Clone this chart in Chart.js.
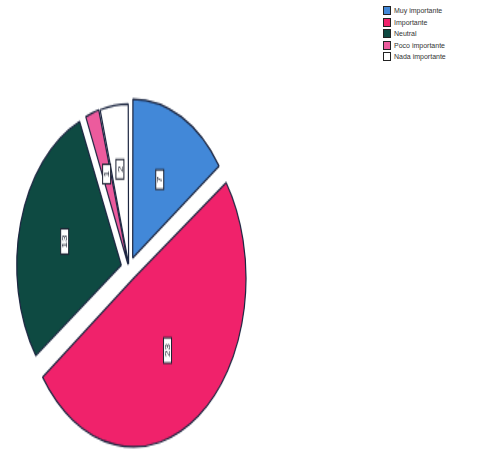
<!DOCTYPE html>
<html>
<head>
<meta charset="utf-8">
<script src="https://cdn.jsdelivr.net/npm/chart.js@4"></script>
<style>
html,body{margin:0;padding:0;background:#fff;width:485px;height:474px;overflow:hidden;font-family:"Liberation Sans",Arial,sans-serif;}
#pieWrap{position:absolute;left:7.5px;top:87px;width:242px;height:242px;transform:scaleY(1.5);transform-origin:0 0;}
#legend{position:absolute;left:383px;top:5px;}
.li{display:flex;align-items:center;height:11.5px;font-size:7px;color:#333;}
.sw{width:8px;height:9px;border:1px solid #222;margin-right:3px;box-sizing:border-box;}
</style>
</head>
<body>
<div id="pieWrap"><canvas id="pie" width="242" height="242"></canvas></div>
<div id="legend"></div>
<script>
const categories = ["Muy importante", "Importante", "Neutral", "Poco importante", "Nada importante"];
const values = [7, 23, 13, 1, 2];
const colors = ["#4288d8", "#f0226b", "#0e4a42", "#ec5b9d", "#ffffff"];

const leg = document.getElementById('legend');
categories.forEach((c, i) => {
  const row = document.createElement('div'); row.className = 'li';
  const sw = document.createElement('div'); sw.className = 'sw'; sw.style.background = colors[i];
  const t = document.createElement('span'); t.textContent = c;
  row.appendChild(sw); row.appendChild(t); leg.appendChild(row);
});

const boxLabels = {
  id: 'boxLabels',
  afterDatasetsDraw(chart) {
    const ctx = chart.ctx;
    const meta = chart.getDatasetMeta(0);
    meta.data.forEach((arc, i) => {
      const p = arc.getProps(['x','y','startAngle','endAngle','outerRadius','innerRadius'], true);
      const mid = (p.startAngle + p.endAngle) / 2;
      const r = p.outerRadius * 0.64;
      const x = p.x + Math.cos(mid) * r;
      const y = p.y + Math.sin(mid) * r;
      const txt = String(values[i]);
      ctx.save();
      ctx.translate(x, y);
      ctx.rotate(-Math.PI / 2);
      ctx.font = '8px "Liberation Sans", Arial, sans-serif';
      const w = Math.max(ctx.measureText(txt).width + 8, 13);
      const h = 8;
      ctx.fillStyle = '#ffffff';
      ctx.strokeStyle = '#1b2030';
      ctx.lineWidth = 1;
      ctx.fillRect(-w/2, -h/2, w, h);
      ctx.strokeRect(-w/2, -h/2, w, h);
      ctx.fillStyle = '#1b2030';
      ctx.textAlign = 'center';
      ctx.textBaseline = 'middle';
      ctx.fillText(txt, 0, 0.5);
      ctx.restore();
    });
  }
};

new Chart(document.getElementById('pie'), {
  type: 'pie',
  data: {
    labels: categories,
    datasets: [{
      data: values,
      backgroundColor: colors,
      borderColor: '#1b2540',
      borderWidth: 1.2,
      offset: [32, 32, 32, 12, 12]
    }]
  },
  options: {
    responsive: false,
    animation: false,
    layout: { padding: 0 },
    plugins: { legend: { display: false }, tooltip: { enabled: false }, title: { display: false } }
  },
  plugins: [boxLabels]
});
</script>
</body>
</html>
